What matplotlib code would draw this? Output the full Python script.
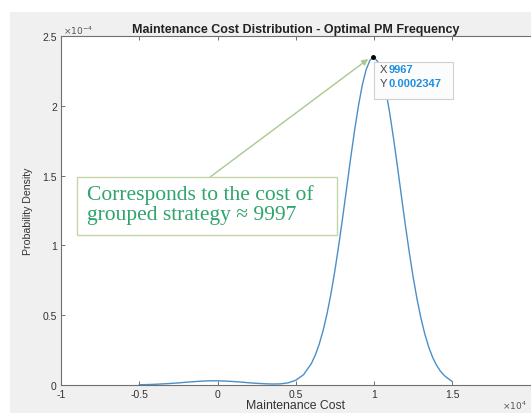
import numpy as np
import matplotlib.pyplot as plt
from matplotlib.patches import Rectangle

# cost in units of 1e4, density in units of 1e-4
cost = [-0.5, -0.45, -0.4, -0.35, -0.3, -0.25, -0.2, -0.15, -0.1, -0.05,
        0.0, 0.05, 0.1, 0.15, 0.2, 0.25, 0.3, 0.35, 0.4, 0.45,
        0.5, 0.55, 0.6, 0.625, 0.65, 0.675, 0.7, 0.725, 0.75, 0.775,
        0.8, 0.825, 0.85, 0.875, 0.9, 0.925, 0.95, 0.975, 0.9967, 1.0,
        1.025, 1.05, 1.075, 1.1, 1.125, 1.15, 1.175, 1.2, 1.225, 1.25,
        1.275, 1.3, 1.325, 1.35, 1.375, 1.4, 1.425, 1.45, 1.475, 1.5]
density = [0.002, 0.003, 0.005, 0.008, 0.011, 0.015, 0.020, 0.024, 0.028, 0.030,
           0.030, 0.028, 0.025, 0.021, 0.016, 0.012, 0.009, 0.007, 0.008, 0.015,
           0.034, 0.074, 0.154, 0.215, 0.293, 0.391, 0.511, 0.654, 0.819, 1.003,
           1.202, 1.409, 1.618, 1.817, 1.996, 2.148, 2.260, 2.328, 2.347, 2.3466,
           2.315, 2.235, 2.111, 1.951, 1.765, 1.563, 1.354, 1.148, 0.953, 0.774,
           0.615, 0.478, 0.364, 0.271, 0.197, 0.141, 0.098, 0.067, 0.045, 0.025]

peak_x, peak_y = 0.9967, 2.347
xticks = [-1, -0.5, 0, 0.5, 1, 1.5, 2]
xticklabels = ["-1", "-0.5", "0", "0.5", "1", "1.5", ""]
yticks = [0, 0.5, 1, 1.5, 2, 2.5]
yticklabels = ["0", "0.5", "1", "1.5", "2", "2.5"]

W, H = 531, 414
fig = plt.figure(figsize=(W / 100, H / 100), dpi=100, facecolor="white")
fig.patches.append(Rectangle((10 / W, 0), 1, (H - 13) / H, transform=fig.transFigure,
                             facecolor="#f0f0f0", edgecolor="none", zorder=-1))

plt.rcParams["font.family"] = ["Liberation Sans", "DejaVu Sans"]
ax = fig.add_axes([61 / W, (H - 386) / H, 469.5 / W, 349 / H])
ax.set_zorder(1)
ax.set_facecolor("white")

ax.plot(cost, density, color="#4a8fc7", lw=1.0)
ax.plot([peak_x], [peak_y], "o", color="black", ms=2.5, zorder=5)

ax.set_xlim(-1, 2)
ax.set_ylim(0, 2.5)
ax.set_xticks(xticks)
ax.set_xticklabels(xticklabels)
ax.set_yticks(yticks)
ax.set_yticklabels(yticklabels)
ax.tick_params(direction="in", length=3, width=0.7, colors="#707070",
               labelcolor="#333333", labelsize=7.5, top=True, right=False, pad=3)
for s in ax.spines.values():
    s.set_color("#707070")
    s.set_linewidth(0.8)
ax.spines["right"].set_visible(False)

ax.set_title("Maintenance Cost Distribution - Optimal PM Frequency",
             fontsize=9.0, fontweight="bold", color="#222222", pad=3)
ax.set_ylabel("Probability Density", fontsize=7.6, color="#333333", labelpad=7)
ax.set_xlabel("Maintenance Cost", fontsize=8.8, color="#333333", labelpad=0)
fig.text(63 / W, (H - 31) / H, r"$\times10^{-4}$", fontsize=6.5, color="#555555",
         va="center", ha="left")
fig.text(502 / W, (H - 406) / H, r"$\times10^{4}$", fontsize=6.5, color="#555555",
         va="center", ha="left")

# data tip
ax.add_patch(Rectangle((1.001, 2.049), 0.505, 0.265, facecolor="#fcfcfc",
                       edgecolor="#d0d0d0", lw=0.8, zorder=6))
ax.text(1.035, 2.262, "X", fontsize=8, color="#444444", va="center", zorder=7)
ax.text(1.095, 2.262, "9967", fontsize=8, color="#1e8fe0", fontweight="bold",
        va="center", zorder=7)
ax.text(1.035, 2.165, "Y", fontsize=8, color="#444444", va="center", zorder=7)
ax.text(1.095, 2.165, "0.0002347", fontsize=8, color="#1e8fe0", fontweight="bold",
        va="center", zorder=7)

# annotation
ax.annotate("", xy=(0.963, 2.335), xytext=(-0.047, 1.49),
            arrowprops=dict(arrowstyle="-|>", color="#a9c98f", lw=1.0,
                            mutation_scale=9, shrinkA=0, shrinkB=0), zorder=4)
ax.add_patch(Rectangle((-0.898, 1.074), 1.663, 0.416, facecolor="white",
                       edgecolor="#c5d5a8", lw=1.0, zorder=6))
ax.text(-0.834, 1.295, "Corresponds to the cost of\ngrouped strategy \u2248 9997",
        fontsize=15.5, family=["Liberation Serif", "DejaVu Serif"], color="#2fa46c",
        va="center", ha="left", linespacing=1.1, zorder=7)

fig.savefig("out.png", dpi=100, facecolor=fig.get_facecolor())
